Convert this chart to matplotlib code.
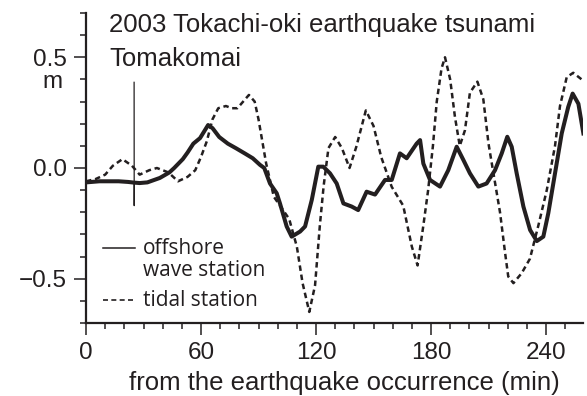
import numpy as np
import matplotlib
matplotlib.use("Agg")
import matplotlib.pyplot as plt
from matplotlib.lines import Line2D
from matplotlib.ticker import MultipleLocator

# tidal station (dashed), minutes after the earthquake / metres
tidal_t = [0, 5, 10, 14, 19, 24, 28, 33, 37, 43, 48, 53, 57, 60, 63, 66, 69, 73,
           76, 79, 82, 85, 88, 90, 92, 94, 98, 102, 106, 110, 113, 116.5, 119.5,
           122, 124, 126.5, 130, 133.5, 137.5, 141, 146, 150, 154, 159.5, 165.5,
           170, 173, 176, 178.5, 181, 183, 185.5, 187.3, 190, 192.5, 195, 197.7,
           200.3, 204.2, 207.3, 210, 212.5, 216, 218.6, 220.3, 223, 227.3, 231.6,
           236, 240.4, 244.7, 247.3, 250.8, 254.2, 258.6]
tidal_v = [-0.06, -0.05, -0.03, 0.01, 0.04, 0.01, -0.03, -0.01, 0.0, -0.02, -0.06,
           -0.04, -0.01, 0.05, 0.12, 0.22, 0.27, 0.28, 0.27, 0.27, 0.30, 0.33, 0.30,
           0.22, 0.12, 0.02, -0.13, -0.18, -0.23, -0.355, -0.52, -0.65, -0.53,
           -0.26, -0.08, 0.09, 0.14, 0.09, 0.0, 0.095, 0.26, 0.19, 0.05, -0.085,
           -0.17, -0.355, -0.44, -0.26, -0.10, 0.10, 0.30, 0.45, 0.50, 0.40, 0.23,
           0.10, 0.17, 0.34, 0.39, 0.31, 0.11, -0.02, -0.20, -0.38, -0.49, -0.52,
           -0.475, -0.41, -0.26, -0.10, 0.10, 0.28, 0.41, 0.43, 0.40]

# offshore wave station (solid)
wave_t = [0, 7, 12, 17, 22, 25, 28, 32, 38.5, 43.5, 46, 50.5, 53, 56, 59.5, 63.7,
          66, 69.5, 74, 78.3, 83, 87, 90.8, 93, 96, 99.5, 101.2, 104.7, 107.3,
          111.7, 114.3, 117.8, 121.2, 123.8, 127.3, 130.8, 134.3, 138.6, 142,
          146.4, 150.8, 156, 159.5, 163.8, 167.3, 172.5, 174.3, 176, 179.5,
          184.7, 189, 193.4, 196.9, 200.3, 204.7, 209, 213.4, 216.9, 219.8,
          222.1, 224.7, 228.2, 231.7, 235.2, 238.6, 241.2, 244.7, 248.2, 251.6,
          253.9, 256.9, 259.5]
wave_v = [-0.065, -0.06, -0.06, -0.06, -0.063, -0.066, -0.068, -0.065, -0.045,
          -0.02, 0.0, 0.04, 0.07, 0.11, 0.135, 0.194, 0.18, 0.14, 0.11, 0.089,
          0.065, 0.044, 0.014, 0.0, -0.07, -0.114, -0.16, -0.264, -0.31, -0.287,
          -0.264, -0.144, 0.006, 0.006, -0.024, -0.07, -0.16, -0.174, -0.19,
          -0.107, -0.12, -0.054, -0.054, 0.066, 0.044, 0.11, 0.126, 0.02, -0.054,
          -0.084, -0.01, 0.096, 0.036, -0.024, -0.084, -0.07, -0.01, 0.066, 0.141,
          0.096, -0.024, -0.174, -0.28, -0.33, -0.31, -0.204, -0.024, 0.156,
          0.276, 0.336, 0.29, 0.156]

# short spike in the offshore record near 25 min
spike_t = [25.1, 25.15, 25.2]
spike_v = [0.387, -0.17, -0.066]

ink = "#231f20"
main_font = ["Liberation Sans", "DejaVu Sans"]
legend_font = ["Open Sans", "DejaVu Sans"]
plt.rcParams["font.family"] = main_font

W, H = 587, 396
fig = plt.figure(figsize=(W / 100, H / 100), dpi=100)
ax = fig.add_axes([86 / W, 1 - 323 / H, 497 / W, 310 / H])

ax.plot(wave_t, wave_v, color=ink, lw=2.9)
ax.plot(spike_t, spike_v, color=ink, lw=0.9)
ax.plot(tidal_t, tidal_v, color=ink, lw=1.8, linestyle=(0, (2.2, 1.5)))

ax.set_xlim(0, 259.3)
ax.set_ylim(-0.70, 0.70)
for s in ["top", "right"]:
    ax.spines[s].set_visible(False)
for s in ["left", "bottom"]:
    ax.spines[s].set_linewidth(1.6)
    ax.spines[s].set_color(ink)

ax.xaxis.set_minor_locator(MultipleLocator(10))
ax.yaxis.set_minor_locator(MultipleLocator(0.1))
ax.set_xticks([0, 60, 120, 180, 240])
ax.set_xticklabels(["0", "60", "120", "180", "240"])
ax.set_yticks([-0.5, 0.0, 0.5])
ax.set_yticklabels(["\u22120.5", "0.0", "0.5"])
ax.tick_params(which="major", length=8.5, width=1.1, color=ink, labelsize=17.5,
               labelcolor=ink)
ax.tick_params(which="minor", length=4.5, width=1.1, color=ink)
ax.tick_params(axis="y", which="major", pad=5)
ax.tick_params(axis="x", which="major", pad=5)

fig.text(53 / W, 1 - 71 / H, "m", ha="center", va="top", fontsize=17.5, color=ink)
fig.text(109 / W, 1 - 13 / H, "2003 Tokachi-oki earthquake tsunami", ha="left",
         va="top", fontsize=18.5, color=ink)
fig.text(109 / W, 1 - 47 / H, "Tomakomai", ha="left", va="top", fontsize=18.5,
         color=ink)
fig.text(344 / W, 1 - 371 / H, "from the earthquake occurrence (min)",
         ha="center", va="top", fontsize=18.5, color=ink)

# legend drawn by hand to keep the sample aligned with the first text line
fig.add_artist(Line2D([103 / W, 135 / W], [1 - 248 / H, 1 - 248 / H],
                      transform=fig.transFigure, color=ink, lw=1.1))
fig.add_artist(Line2D([103 / W, 135 / W], [1 - 300 / H, 1 - 300 / H],
                      transform=fig.transFigure, color=ink, lw=1.2,
                      linestyle=(0, (3, 2))))
fig.text(143 / W, 1 - 249 / H, "offshore", ha="left", va="center", fontsize=15,
         color=ink, family=legend_font)
fig.text(143 / W, 1 - 270 / H, "wave station", ha="left", va="center",
         fontsize=15, color=ink, family=legend_font)
fig.text(143 / W, 1 - 301 / H, "tidal station", ha="left", va="center",
         fontsize=15, color=ink, family=legend_font)

fig.savefig("out.png", dpi=100)
